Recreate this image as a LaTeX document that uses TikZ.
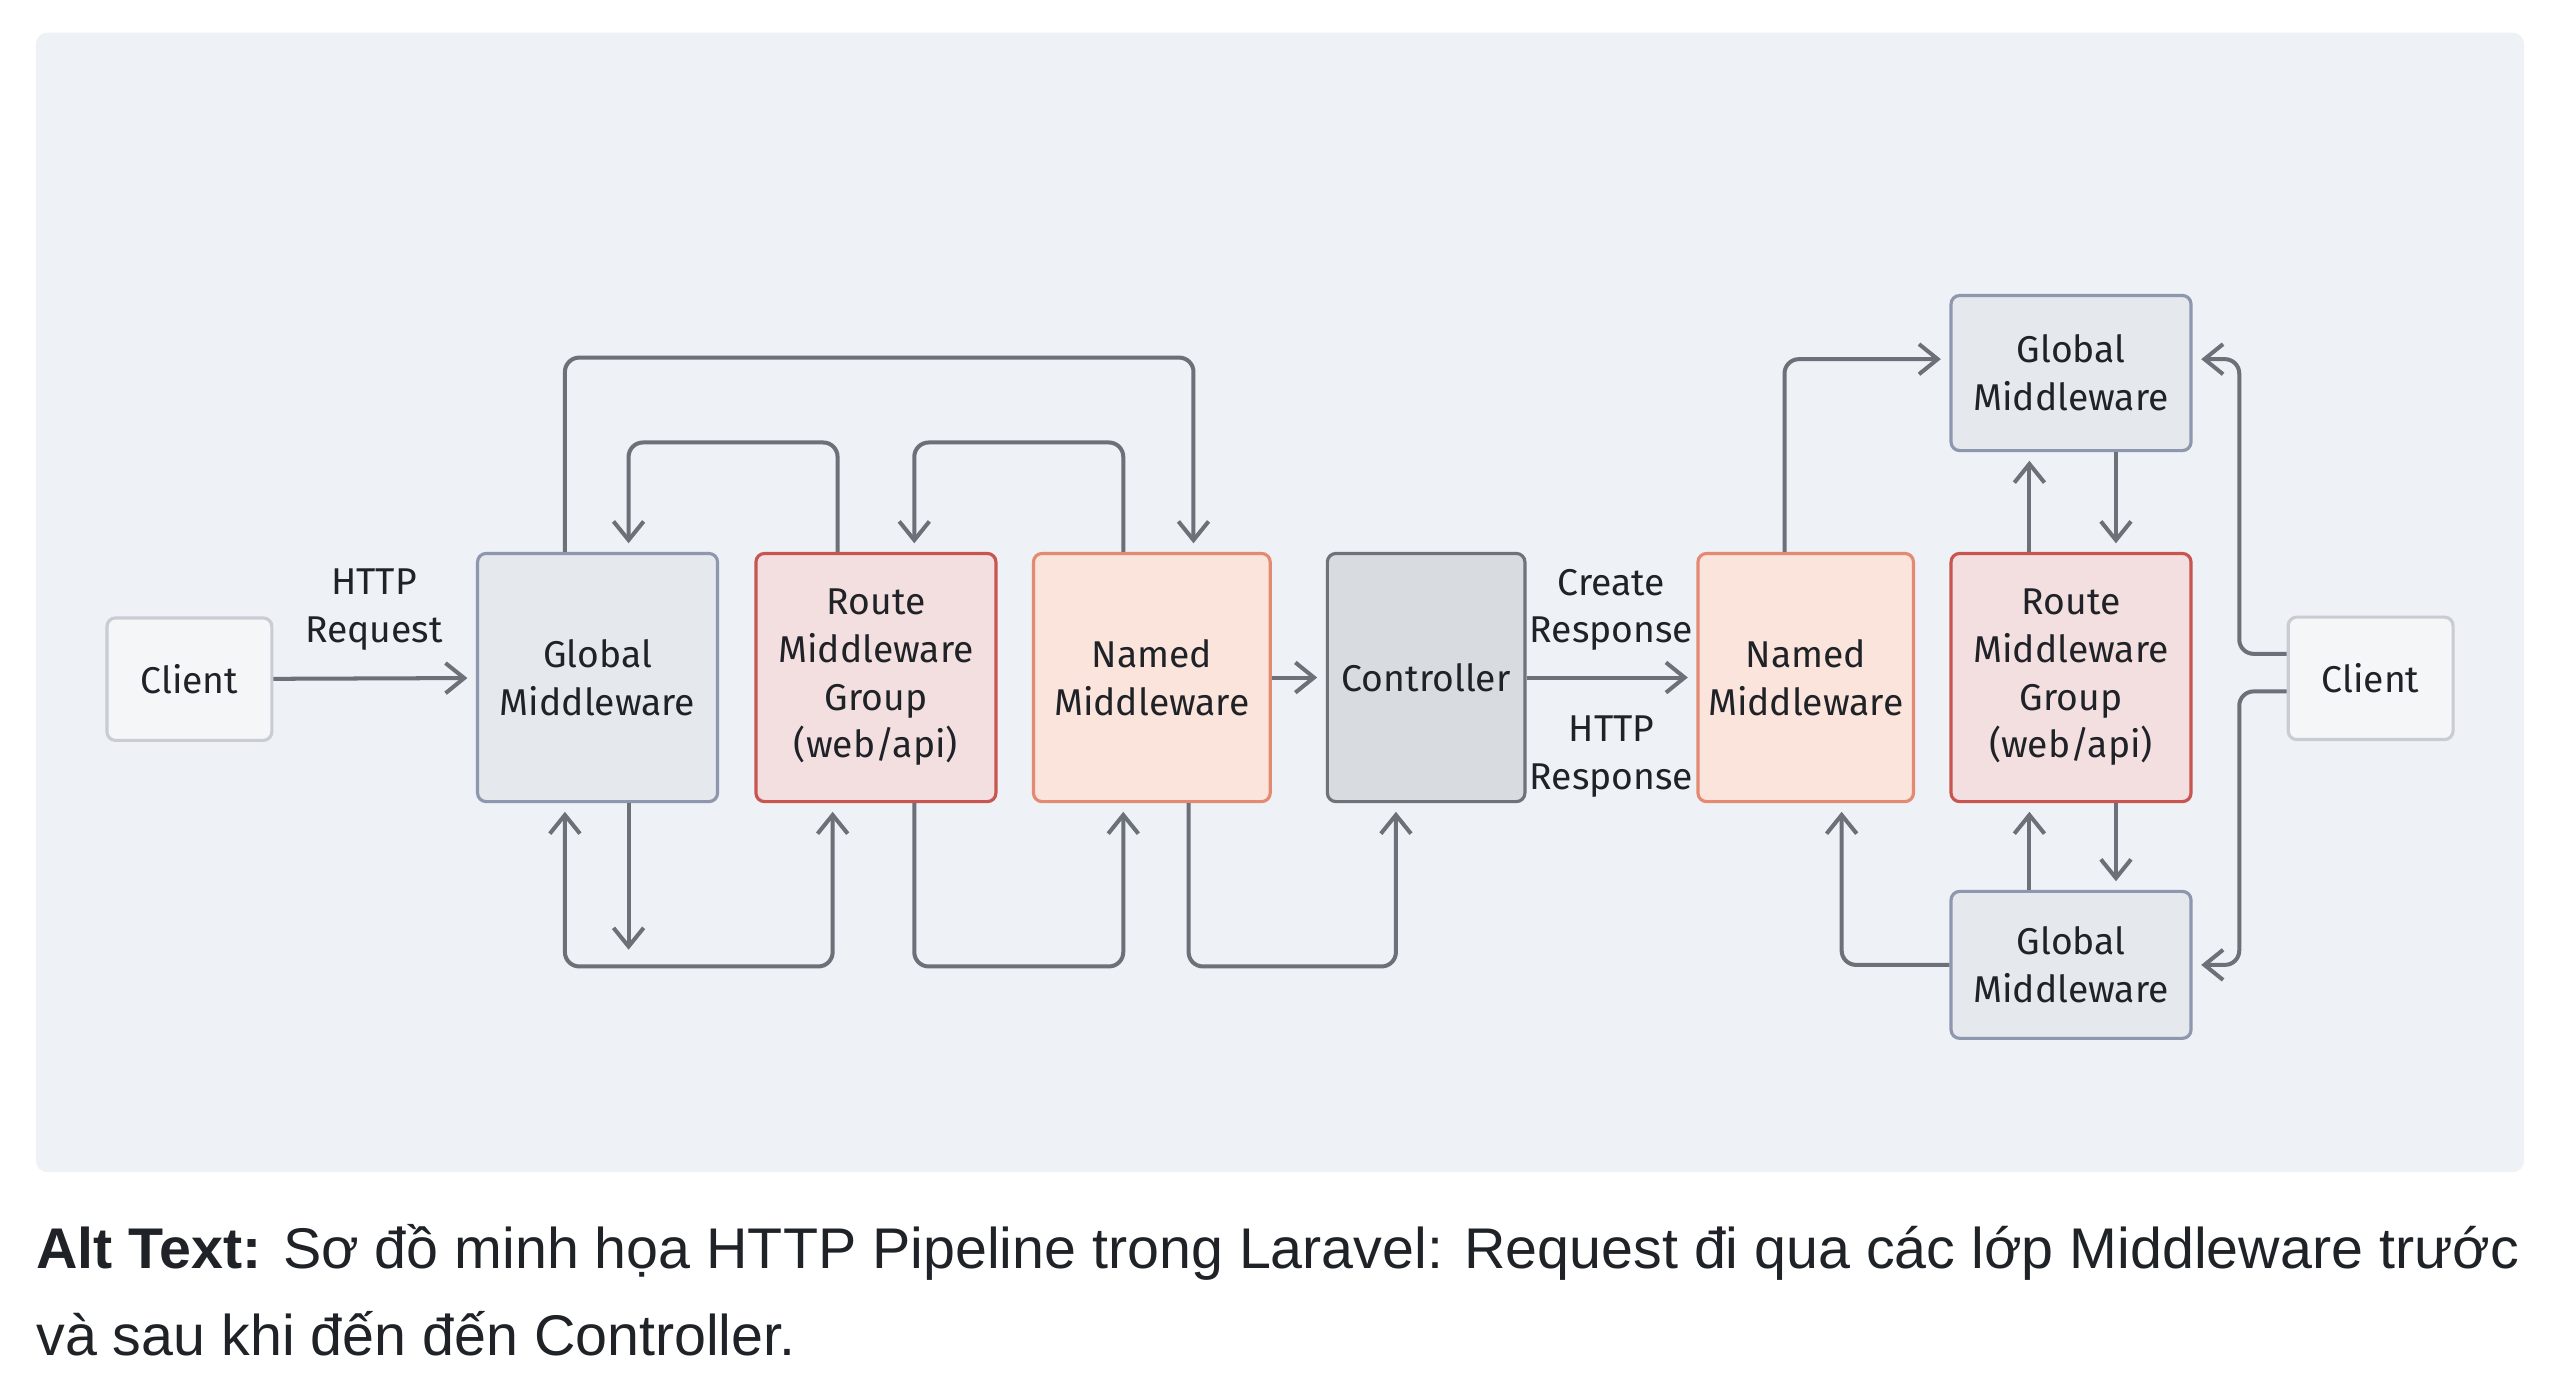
\documentclass[tikz,border=0pt]{standalone}
\usepackage{fontspec}
\setmainfont{Fira Sans}
\newfontfamily\captionfont{Liberation Sans}
\usepackage{xcolor}
\usetikzlibrary{positioning, arrows.meta}

\definecolor{panelbg}{HTML}{EEF1F5}
\definecolor{clientfill}{HTML}{F4F6F8}
\definecolor{clientline}{HTML}{C9CDD3}
\definecolor{globalfill}{HTML}{E5E8ED}
\definecolor{globalline}{HTML}{8E97AD}
\definecolor{routefill}{HTML}{F3DFDF}
\definecolor{routeline}{HTML}{C8554F}
\definecolor{namedfill}{HTML}{FBE4DB}
\definecolor{namedline}{HTML}{E48A72}
\definecolor{ctrlfill}{HTML}{D8DBE0}
\definecolor{ctrlline}{HTML}{6E737B}
\definecolor{linkgray}{HTML}{6B7079}
\definecolor{inktext}{HTML}{1F2328}

\begin{document}
\begin{tikzpicture}[
    box/.style={rectangle, draw, rounded corners=3pt, line width=1.1pt, align=center,
        inner sep=0pt, text=inktext, font=\fontsize{13}{16.6}\selectfont},
    clientbox/.style={box, fill=clientfill, draw=clientline, minimum width=2.02cm, minimum height=1.5cm},
    globalbox/.style={box, fill=globalfill, draw=globalline, minimum width=2.94cm},
    routebox/.style={box, fill=routefill, draw=routeline, minimum width=2.94cm, minimum height=3.04cm},
    namedbox/.style={box, fill=namedfill, draw=namedline, minimum height=3.04cm},
    ctrlbox/.style={box, fill=ctrlfill, draw=ctrlline, minimum width=2.42cm, minimum height=3.04cm},
    lbl/.style={align=center, text=inktext, font=\fontsize{13}{16.6}\selectfont},
    tip/.tip={Straight Barb[length=6.5pt, width=10.5pt]},
    link/.style={draw=linkgray, line width=1.4pt, rounded corners=5pt, -tip, shorten >=3pt}
]
    % Canvas and panel
    \fill[white] (0,0) rectangle (31.36,17.10);
    \useasboundingbox (0,0) rectangle (31.36,17.10);
    \fill[panelbg, rounded corners=4pt] (0.44,2.74) rectangle (30.92,16.70);

    % Request side
    \node[clientbox] (cl) at (2.32, 8.78) {Client};
    \node[globalbox, minimum height=3.04cm] (gml) at (7.32, 8.80) {Global\\Middleware};
    \node[routebox] (rml) at (10.73, 8.80) {Route\\Middleware\\Group\\(web/api)};
    \node[namedbox, minimum width=2.90cm] (nml) at (14.11, 8.80) {Named\\Middleware};
    \node[ctrlbox] (ctl) at (17.47, 8.80) {Controller};

    % Response side
    \node[namedbox, minimum width=2.64cm] (nmr) at (22.12, 8.80) {Named\\Middleware};
    \node[routebox] (rmr) at (25.37, 8.80) {Route\\Middleware\\Group\\(web/api)};
    \node[globalbox, minimum height=1.90cm] (gtm) at (25.37, 12.53) {Global\\Middleware};
    \node[globalbox, minimum height=1.80cm] (gbm) at (25.37, 5.28) {Global\\Middleware};
    \node[clientbox] (clr) at (29.04, 8.79) {Client};

    % Straight links
    \draw[link] (cl) -- (gml);
    \draw[link] (nml) -- (ctl);
    \draw[link] (ctl) -- (nmr);
    \node[lbl] (req) at (4.58, 9.63) {HTTP\\Request};
    \node[lbl] (cre) at (19.74, 9.63) {Create\\Response};
    \node[lbl] (res) at (19.74, 7.83) {HTTP\\Response};

    % Loops over the top
    \draw[link] ([xshift=-4mm]gml.north) -- ++(0,2.38) -| ([xshift=5.1mm]nml.north);
    \draw[link] ([xshift=-4.7mm]rml.north) -- ++(0,1.34) -| ([xshift=3.8mm]gml.north);
    \draw[link] ([xshift=-3.5mm]nml.north) -- ++(0,1.34) -| ([xshift=4.7mm]rml.north);

    % Loops underneath
    \draw[link, tip-tip, shorten <=3pt]
        ([xshift=-4mm]gml.south) -- ++(0,-2) -| ([xshift=-5.3mm]rml.south);
    \draw[link] ([xshift=3.8mm]gml.south) -- ++(0,-1.9);
    \draw[link] ([xshift=4.7mm]rml.south) -- ++(0,-2) -| ([xshift=-3.5mm]nml.south);
    \draw[link] ([xshift=4.5mm]nml.south) -- ++(0,-2) -| ([xshift=-3.7mm]ctl.south);

    % Way back out
    \draw[link] ([xshift=-2.6mm]nmr.north) |- ([yshift=1.7mm]gtm.west);
    \draw[link] ([xshift=5.5mm]gtm.south) -- ([xshift=5.5mm]rmr.north);
    \draw[link] ([xshift=-5.1mm]rmr.north) -- ([xshift=-5.1mm]gtm.south);
    \draw[link] ([xshift=5.5mm]rmr.south) -- ([xshift=5.5mm]gbm.north);
    \draw[link] ([xshift=-5.1mm]gbm.north) -- ([xshift=-5.1mm]rmr.south);
    \draw[link] (gbm.west) -| ([xshift=4.4mm]nmr.south);
    \draw[link] ([yshift=3mm]clr.west) -- ++(-0.58,0) |- ([yshift=1.7mm]gtm.east);
    \draw[link] ([yshift=-1.6mm]clr.west) -- ++(-0.58,0) |- (gbm.east);

    % Caption
    \node[anchor=base west, inner sep=0pt, text=inktext, font=\captionfont\fontsize{20}{24}\selectfont] (cap1) at (0.44, 1.56)
        {\textbf{Alt Text:} Sơ đồ minh họa HTTP Pipeline trong Laravel: Request đi qua các lớp Middleware trước};
    \node[anchor=base west, inner sep=0pt, text=inktext, font=\captionfont\fontsize{20}{24}\selectfont] (cap2) at (0.44, 0.50)
        {và sau khi đến đến Controller.};
\end{tikzpicture}
\end{document}
